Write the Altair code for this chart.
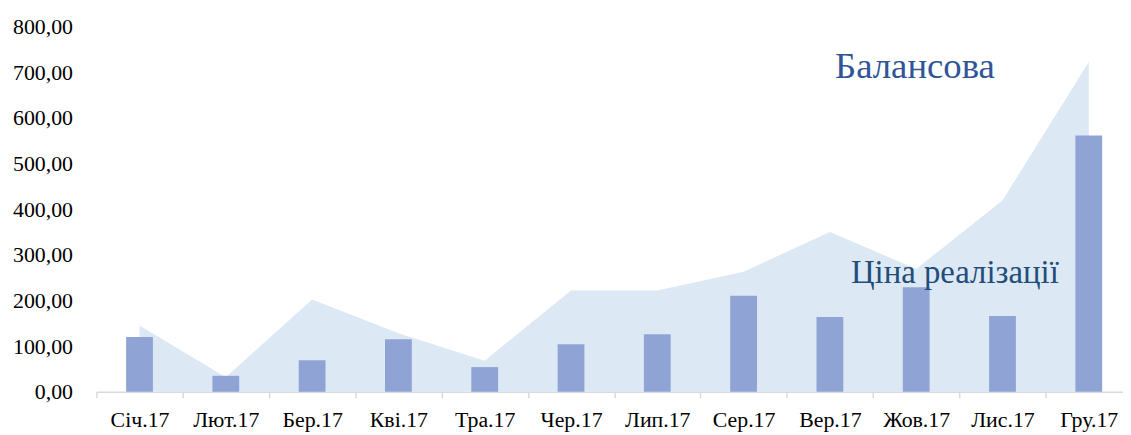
import altair as alt
import pandas as pd

months = ["Січ.17", "Лют.17", "Бер.17", "Кві.17", "Тра.17", "Чер.17",
          "Лип.17", "Сер.17", "Вер.17", "Жов.17", "Лис.17", "Гру.17"]
balance = [145, 32, 202, 128, 68, 222, 222, 263, 350, 269, 419, 722]
sale_price = [120, 35, 69, 115, 54, 104, 126, 210, 164, 229, 166, 561]
y_ticks = [0, 100, 200, 300, 400, 500, 600, 700, 800]

df = pd.DataFrame({"month": months, "balance": balance, "price": sale_price})

FONT = "Liberation Serif"

x = alt.X("month:N", sort=months, title=None,
          scale=alt.Scale(paddingInner=0, paddingOuter=0, range=[0, 1043]),
          axis=alt.Axis(labelAngle=0, labelFont=FONT, labelFontSize=22,
                        labelColor="#000000", domainColor="#D9D9D9", domainWidth=1.5,
                        tickColor="#D9D9D9", tickWidth=1.5, tickSize=6, tickBand="extent",
                        labelPadding=12, grid=False))
y_scale = alt.Scale(domain=[0, 800], nice=False)

area = alt.Chart(df).mark_area(color="#DDE8F5", opacity=1).encode(
    x=x,
    y=alt.Y("balance:Q", scale=y_scale, title=None,
            axis=alt.Axis(values=y_ticks, labelExpr="replace(format(datum.value, '.2f'), '.', ',')",
                          labelFont=FONT, labelFontSize=22, labelColor="#000000",
                          domain=False, ticks=False, grid=False, labelPadding=24)),
)

bars = alt.Chart(df).mark_bar(color="#8FA4D4", size=27).encode(
    x=x,
    y=alt.Y("price:Q", scale=y_scale),
)

lbl1 = alt.Chart(pd.DataFrame({"t": ["Балансова"]})).mark_text(
    font=FONT, fontSize=37, color="#2F5597", align="left", baseline="alphabetic"
).encode(text="t:N", x=alt.value(744), y=alt.value(52))

lbl2 = alt.Chart(pd.DataFrame({"t": ["Ціна реалізації"]})).mark_text(
    font=FONT, fontSize=33, color="#1F4E79", align="left", baseline="alphabetic"
).encode(text="t:N", x=alt.value(760), y=alt.value(258))

chart = alt.layer(area, bars, lbl1, lbl2).properties(
    width=1034, height=368,
    autosize=alt.AutoSizeParams(type="none"),
    padding={"left": 89, "top": 17, "right": 0, "bottom": 42},
).configure_view(stroke=None)

chart.save("out.html", embed_options={"renderer": "svg", "actions": False})
